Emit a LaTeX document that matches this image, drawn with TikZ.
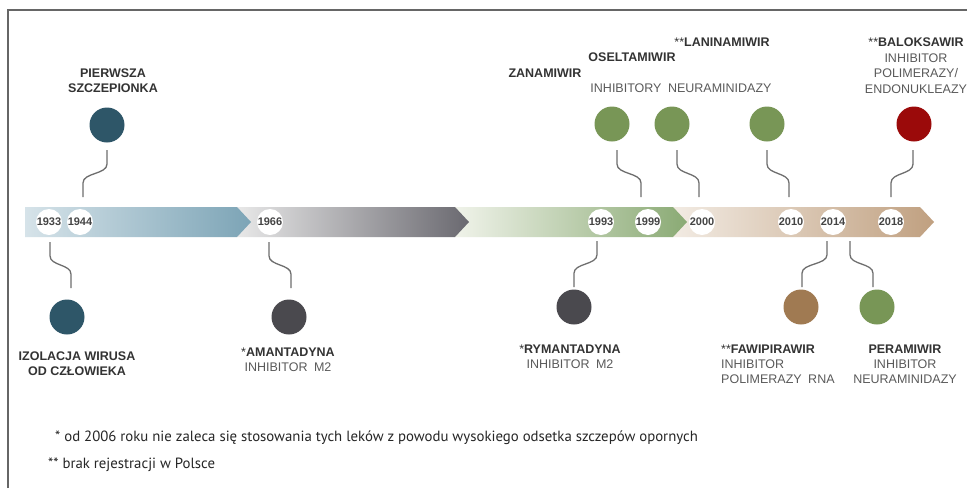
\documentclass[tikz,border=0pt]{standalone}
\usepackage{fontspec}
\setmainfont{Liberation Sans}
\newfontfamily\notefont{PT Sans}
\usetikzlibrary{calc}
\definecolor{frameC}{HTML}{666666}
\definecolor{connC}{HTML}{6E6E6E}
\definecolor{teal}{HTML}{2E5668}
\definecolor{dgray}{HTML}{4A494E}
\definecolor{lgreen}{HTML}{789656}
\definecolor{dred}{HTML}{9B0A0A}
\definecolor{brownC}{HTML}{A07A52}
\definecolor{labC}{HTML}{333333}
\definecolor{subC}{HTML}{5A5A5A}
\definecolor{yearC}{HTML}{444444}
\newcommand\sconn[2]{\draw[conn] (#1) -- ($(#1)!0.3!(#1|-#2)$) .. controls ($(#1)!0.52!(#1|-#2)$) and ($(#2|-#1)!0.48!(#2)$) .. ($(#2|-#1)!0.7!(#2)$) -- (#2);}
\begin{document}
\begin{tikzpicture}[x=1pt,y=-1pt,
  yr/.style={circle,fill=white,minimum size=26pt,inner sep=0pt,text=yearC,font=\bfseries\fontsize{11}{12}\selectfont},
  evt/.style={circle,fill=#1,minimum size=35pt,inner sep=0pt},
  conn/.style={draw=connC,line width=1.3pt},
  lab/.style={inner sep=0pt,align=center,text=labC,font=\fontsize{12.5}{15}\selectfont},
  note/.style={inner sep=0pt,text=black!85,font=\notefont\fontsize{14.8}{17}\selectfont}]
\useasboundingbox (0,0) rectangle (967,488);
\fill[white] (0,0) rectangle (967,488);
\draw[frameC,line width=1.5pt] (8,488) -- (8,10) -- (967,10);
% timeline band (drawn right to left so each tip overlaps the next segment)
\shade[left color={rgb,255:red,242;green,235;blue,227},middle color={rgb,255:red,228;green,214;blue,199},right color={rgb,255:red,192;green,160;blue,128}]
  (673,207) -- (920,207) -- (934,222) -- (920,237) -- (673,237) -- cycle;
\shade[left color={rgb,255:red,240;green,243;blue,234},middle color={rgb,255:red,218;green,228;blue,208},right color={rgb,255:red,138;green,170;blue,116}]
  (455,207) -- (673,207) -- (687,222) -- (673,237) -- (455,237) -- cycle;
\shade[left color={rgb,255:red,232;green,232;blue,232},right color={rgb,255:red,106;green,105;blue,112}]
  (237,207) -- (455,207) -- (469,222) -- (455,237) -- (237,237) -- cycle;
\shade[left color={rgb,255:red,214;green,227;blue,233},right color={rgb,255:red,124;green,164;blue,182}]
  (25,207) -- (237,207) -- (251,222) -- (237,237) -- (25,237) -- cycle;
% year circles
\node[yr] (y1933) at (49,222) {1933};
\node[yr] (y1944) at (80,222) {1944};
\node[yr] (y1966) at (270,222) {1966};
\node[yr] (y1993) at (601,222) {1993};
\node[yr] (y1999) at (648,222) {1999};
\node[yr] (y2000) at (702,222) {2000};
\node[yr] (y2010) at (791,222) {2010};
\node[yr] (y2014) at (833,222) {2014};
\node[yr] (y2018) at (891,222) {2018};
% event circles
\node[evt=teal] (epier) at (107,125) {};
\node[evt=teal] (eizol) at (67,317) {};
\node[evt=dgray] (eaman) at (289,317) {};
\node[evt=dgray] (eryma) at (574,307) {};
\node[evt=lgreen] (ezana) at (612,124) {};
\node[evt=lgreen] (eosel) at (672,124) {};
\node[evt=lgreen] (elani) at (767,124) {};
\node[evt=dred] (ebalo) at (914,124) {};
\node[evt=brownC] (efawi) at (801,307) {};
\node[evt=lgreen] (epera) at (877,307) {};
% connector end points
\coordinate (c1a) at ($(epier)+(0,25)$);   \coordinate (c1b) at ($(y1944)+(3,-25)$);
\coordinate (c2a) at ($(y1933)+(1,20)$);   \coordinate (c2b) at ($(eizol)+(4,-29)$);
\coordinate (c3a) at ($(y1966)+(-1,20)$);  \coordinate (c3b) at ($(eaman)+(2,-29)$);
\coordinate (c4a) at ($(y1993)+(-4,19)$);  \coordinate (c4b) at ($(eryma)+(0,-20)$);
\coordinate (c5a) at ($(ezana)+(5,26)$);   \coordinate (c5b) at ($(y1999)+(-7,-25)$);
\coordinate (c6a) at ($(eosel)+(5,26)$);   \coordinate (c6b) at ($(y2000)+(-3,-25)$);
\coordinate (c7a) at ($(elani)+(0,26)$);   \coordinate (c7b) at ($(y2010)+(-2,-25)$);
\coordinate (c8a) at ($(ebalo)+(-1,26)$);  \coordinate (c8b) at ($(y2018)+(0,-25)$);
\coordinate (c9a) at ($(y2014)+(-6,19)$);  \coordinate (c9b) at ($(efawi)+(1,-20)$);
\coordinate (c10a) at ($(y2014)+(17,19)$); \coordinate (c10b) at ($(epera)+(-4,-20)$);
\sconn{c1a}{c1b}
\sconn{c2a}{c2b}
\sconn{c3a}{c3b}
\sconn{c4a}{c4b}
\sconn{c5a}{c5b}
\sconn{c6a}{c6b}
\sconn{c7a}{c7b}
\sconn{c8a}{c8b}
\sconn{c9a}{c9b}
\sconn{c10a}{c10b}
% labels
\node[lab,anchor=north] (tpier) at (113,68.5) {\textbf{PIERWSZA}\\\textbf{SZCZEPIONKA}};
\node[lab,anchor=north] (tizol) at (77,351.5) {\textbf{IZOLACJA WIRUSA}\\\textbf{OD CZŁOWIEKA}};
\node[lab,anchor=north] (taman) at (288,347.5) {*\textbf{AMANTADYNA}\\{\color{subC}INHIBITOR\hspace{3pt} M2}};
\node[lab,anchor=north] (tryma) at (570,344.5) {*\textbf{RYMANTADYNA}\\{\color{subC}INHIBITOR\hspace{3pt} M2}};
\node[lab,anchor=north west,align=left] (tfawi) at (721,344.5) {**\textbf{FAWIPIRAWIR}\\{\color{subC}INHIBITOR}\\{\color{subC}POLIMERAZY\hspace{3pt} RNA}};
\node[lab,anchor=north] (tpera) at (905,344.5) {\textbf{PERAMIWIR}\\{\color{subC}INHIBITOR}\\{\color{subC}NEURAMINIDAZY}};
\node[lab,anchor=north] (tzana) at (545,68.5) {\textbf{ZANAMIWIR}};
\node[lab,anchor=north] (tosel) at (632,52.5) {\textbf{OSELTAMIWIR}};
\node[lab,anchor=north] (tlani) at (722,37.5) {**\textbf{LANINAMIWIR}};
\node[lab,anchor=north,text=subC] (tinhn) at (681,83.5) {INHIBITORY\hspace{3pt} NEURAMINIDAZY};
\node[lab,anchor=north,font=\fontsize{12.5}{15.6}\selectfont] (tbalo) at (916,37.5) {**\textbf{BALOKSAWIR}\\{\color{subC}INHIBITOR}\\{\color{subC}POLIMERAZY/}\\{\color{subC}ENDONUKLEAZY}};
% footnotes
\node[note,anchor=west] (n1) at (55,438) {* od 2006 roku nie zaleca się stosowania tych leków z powodu wysokiego odsetka szczepów opornych};
\node[note,anchor=west] (n2) at (48,465) {** brak rejestracji w Polsce};
\end{tikzpicture}
\end{document}
